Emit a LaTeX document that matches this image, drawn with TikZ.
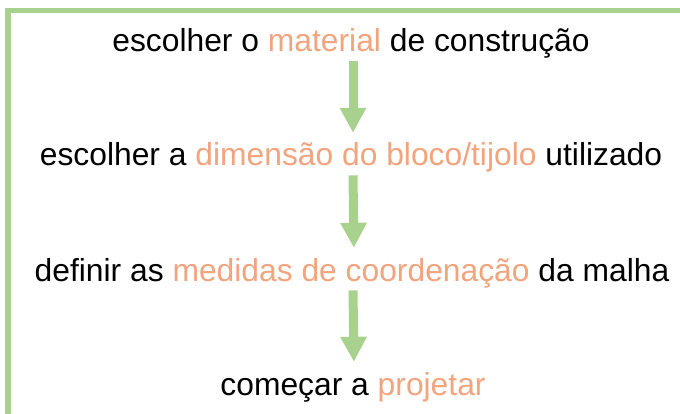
\documentclass[tikz,border=0pt]{standalone}
\usepackage{fontspec}
\setmainfont{Liberation Sans}
\usetikzlibrary{arrows.meta}
\definecolor{framegreen}{RGB}{169,209,142}
\definecolor{accent}{RGB}{241,164,126}
\newcommand{\hl}[1]{\textcolor{accent}{#1}}

\begin{document}
\begin{tikzpicture}[x=1pt, y=-1pt,
    steptext/.style={anchor=base, inner sep=0pt, font=\fontsize{31.8}{36}\selectfont},
    flowarrow/.style={framegreen, line width=9pt,
        -{Triangle[width=25pt, length=25pt]},
        shorten <=2.5pt, shorten >=10pt}]
    \useasboundingbox (0,0) rectangle (680,414);
    % frame on the left and top
    \draw[framegreen, line width=5.5pt, miter limit=10] (8,414) -- (8,10.5) -- (680,10.5);
    % steps
    \node[steptext] (t1) at (351,52) {escolher o \hl{material} de construção};
    \node[steptext] (t2) at (351,166) {escolher a \hl{dimensão do bloco/tijolo} utilizado};
    \node[steptext] (t3) at (352,281) {definir as \hl{medidas de coordenação} da malha};
    \node[steptext] (t4) at (353,395) {começar a \hl{projetar}};
    % arrows between steps
    \draw[flowarrow] ([xshift=2pt]t1.south) -- ([xshift=2pt]t2.north);
    \draw[flowarrow] ([xshift=2pt]t2.south) -- ([xshift=2pt]t3.north);
    \draw[flowarrow] ([xshift=1pt]t3.south) -- ([xshift=1pt]t4.north);
\end{tikzpicture}
\end{document}
